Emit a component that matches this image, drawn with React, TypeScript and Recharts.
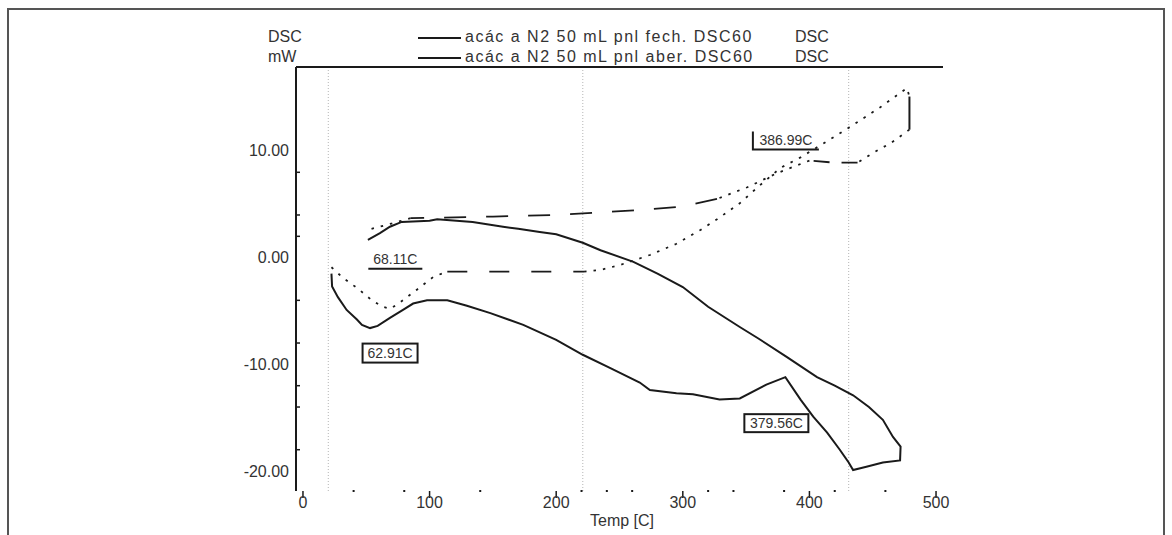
import React from 'react';
import { LineChart, Line, XAxis, YAxis, ReferenceLine, ReferenceDot } from 'recharts';

// closed pan (fech.) trace, in drawing order
const closedPanTemp = [
  22.5, 23, 27.6, 34.5, 42.6, 46.6, 53, 59, 68.7, 79, 87, 98, 114, 129.5, 148, 174, 200, 221, 242, 266,
  274, 295, 308, 329, 345, 366, 381, 393, 403, 414, 424, 431, 434.5, 445, 458, 471.6, 472, 466, 458, 447,
  434.5, 420, 406, 382, 360, 345, 320, 300, 280, 261, 235, 221, 200, 187, 170, 158, 134, 106, 100, 78,
  68.7, 60.8, 51.3,
];
const closedPanDsc = [
  -1.5, -2.7, -3.7, -4.9, -5.8, -6.3, -6.6, -6.4, -5.65, -4.9, -4.3, -4.0, -4.0, -4.5, -5.2, -6.3, -7.7, -9.1, -10.3, -11.7,
  -12.4, -12.7, -12.8, -13.3, -13.2, -11.9, -11.2, -13.3, -14.9, -16.4, -18.0, -19.2, -19.9, -19.6, -19.2, -19.0, -17.7, -16.8, -15.2, -14.0,
  -12.9, -12.0, -11.2, -9.3, -7.6, -6.5, -4.6, -2.75, -1.5, -0.4, 0.7, 1.4, 2.2, 2.4, 2.7, 2.9, 3.35, 3.6, 3.45, 3.35,
  2.9, 2.3, 1.66,
];

// open pan (aber.) trace, in drawing order
const openPanTemp = [
  22.5, 31.6, 43.4, 54.5, 63, 69, 76.6, 90, 103, 114,
  160, 222,
  235, 250, 274, 295, 314, 327, 345, 361, 377, 393, 411, 432, 456, 477, 479,
  479,
  465, 450, 438,
  420, 400,
  374, 351, 327,
  300, 270, 230, 200, 150, 85,
  70, 51,
];
const openPanDsc = [
  -0.9, -1.9, -2.9, -4.0, -4.6, -4.8, -4.2, -3.0, -1.8, -1.3,
  -1.3, -1.3,
  -1.15, -0.7, 0.25, 1.3, 2.6, 3.6, 5.1, 6.8, 8.4, 9.4, 10.7, 12.25, 14.1, 15.9, 15.1,
  12.0,
  10.8, 9.8, 8.9,
  8.9, 9.1,
  7.9, 6.6, 5.5,
  4.8, 4.5, 4.2, 4.0, 3.85, 3.7,
  3.2, 2.6,
];

const xMajorTicks = [0, 100, 200, 300, 400, 500];
const xMinorTicks = [40, 80, 140, 220, 240, 260, 320, 340, 380, 420, 460];
const yMajorTicks = [-20, -10, 0, 10];
const yMinorTicks = [8, 4, 2, -4, -8, -12, -14, -18];
const markerTemps = [20, 221, 431];

const peakLabels = ['62.91C', '68.11C', '379.56C', '386.99C'];
const peakTemps = [53, 69, 381, 398];
const peakDsc = [-6.6, -4.8, -11.2, 9.3];

const legendNames = ['acác a N2 50 mL pnl fech. DSC60', 'acác a N2 50 mL pnl aber. DSC60'];

// dash style of each stretch of the open pan trace (index ranges into the arrays above)
const DOTS = '2.5 7';
const openPanPieces = [
  { from: 0, to: 9, dash: DOTS },
  { from: 9, to: 11, dash: '20 22' },
  { from: 11, to: 26, dash: DOTS },
  { from: 26, to: 27, dash: undefined },
  { from: 27, to: 30, dash: DOTS },
  { from: 30, to: 32, dash: '16 12' },
  { from: 32, to: 35, dash: DOTS },
  { from: 35, to: 41, dash: '22 20' },
  { from: 41, to: 43, dash: DOTS },
];

// where each peak label sits relative to its point, in px
const labelLayout = [
  { kind: 'box', dx: 20, dy: 25, w: 55, h: 19 },
  { kind: 'underline', dx: 5, dy: -50, w: 54, h: 18 },
  { kind: 'box', dx: -9, dy: 46, w: 64, h: 18 },
  { kind: 'bracket', dx: -21, dy: -18, w: 66, h: 18 },
];

const closedPan = closedPanTemp.map((t, i) => ({ t, v: closedPanDsc[i] }));
const openPan = openPanTemp.map((t, i) => ({ t, v: openPanDsc[i] }));

const W = 1172;
const H = 535;
const FONT = '"Liberation Sans", Arial, sans-serif';
const INK = '#1a1a1a';
const TEXT = '#333';

const XTick = ({ x, y, payload }: any) => {
  const v = payload.value;
  if (xMajorTicks.includes(v)) {
    return (
      <g>
        <line x1={x} x2={x} y1={y} y2={y + 7} stroke={INK} strokeWidth={1.5} />
        <text x={x} y={y + 17} textAnchor="middle" fontSize={16} fill={TEXT} fontFamily={FONT}>
          {v}
        </text>
      </g>
    );
  }
  return <rect x={x - 1} y={y - 1} width={2} height={2} fill={INK} />;
};

const YTick = ({ x, y, payload }: any) => {
  const v = payload.value;
  if (yMajorTicks.includes(v)) {
    return (
      <text x={x - 7} y={y + 5.5} textAnchor="end" fontSize={16} fill={TEXT} fontFamily={FONT}>
        {v.toFixed(2)}
      </text>
    );
  }
  return <line x1={x + 1} x2={x + 4} y1={y} y2={y} stroke={INK} strokeWidth={1.5} />;
};

const PeakLabel = (i: number) => (props: any) => {
  const { cx, cy } = props;
  const l = labelLayout[i];
  const mx = cx + l.dx;
  const my = cy + l.dy;
  const text = (
    <text x={mx} y={my + 5} textAnchor="middle" fontSize={14} fill={TEXT} fontFamily={FONT}>
      {peakLabels[i]}
    </text>
  );
  if (l.kind === 'box') {
    return (
      <g>
        <rect x={mx - l.w / 2} y={my - l.h / 2} width={l.w} height={l.h} fill="#fff" stroke={INK} strokeWidth={2} />
        {text}
      </g>
    );
  }
  if (l.kind === 'underline') {
    return (
      <g>
        {text}
        <line x1={mx - l.w / 2} x2={mx + l.w / 2} y1={my + 10} y2={my + 10} stroke={INK} strokeWidth={2} />
      </g>
    );
  }
  return (
    <g>
      {text}
      <polyline
        points={`${mx - l.w / 2},${my - 9} ${mx - l.w / 2},${my + 9} ${mx + l.w / 2},${my + 9}`}
        fill="none"
        stroke={INK}
        strokeWidth={2}
      />
    </g>
  );
};

const abs = (left: number, top: number, extra: React.CSSProperties = {}): React.CSSProperties => ({
  position: 'absolute',
  left,
  top,
  whiteSpace: 'nowrap',
  ...extra,
});

export default function App() {
  const textStyle: React.CSSProperties = { fontSize: 16, lineHeight: '18px', color: TEXT, fontFamily: FONT };
  return (
    <div style={{ position: 'absolute', left: 0, top: 0, width: W, height: H, background: '#fff', overflow: 'hidden' }}>
      <div
        style={abs(7, 8, {
          width: 1154,
          height: 560,
          borderLeft: '2px solid #555',
          borderTop: '2px solid #555',
          borderRight: '2px solid #555',
        })}
      />

      <div style={abs(268, 28, textStyle)}>DSC</div>
      <div style={abs(268, 48, textStyle)}>mW</div>
      {legendNames.map((name, i) => (
        <React.Fragment key={name}>
          <div style={abs(418, 37 + i * 20, { width: 43, height: 2, background: INK })} />
          <div style={abs(465, 28 + i * 20, { ...textStyle, letterSpacing: 1.5 })}>{name}</div>
          <div style={abs(795, 28 + i * 20, textStyle)}>DSC</div>
        </React.Fragment>
      ))}

      <div style={abs(0, 0)}>
        <LineChart width={W} height={H} margin={{ top: 67, right: 229, bottom: 14, left: 236 }}>
          <XAxis
            dataKey="t"
            type="number"
            domain={[-5.5, 505.5]}
            allowDataOverflow
            ticks={[...xMajorTicks, ...xMinorTicks]}
            interval={0}
            tick={<XTick />}
            tickLine={false}
            tickSize={0}
            tickMargin={0}
            axisLine={false}
            height={30}
          />
          <YAxis
            type="number"
            domain={[-21.87, 17.87]}
            allowDataOverflow
            ticks={[...yMajorTicks, ...yMinorTicks]}
            interval={0}
            tick={<YTick />}
            tickLine={false}
            tickSize={0}
            tickMargin={0}
            axisLine={{ stroke: INK, strokeWidth: 2 }}
            width={60}
          />
          {markerTemps.map((t) => (
            <ReferenceLine key={t} x={t} stroke="#b5b5b5" strokeDasharray="1 2" />
          ))}
          <ReferenceLine y={17.87} stroke={INK} strokeWidth={2} />

          <Line
            data={closedPan}
            dataKey="v"
            type="linear"
            stroke={INK}
            strokeWidth={2}
            dot={false}
            isAnimationActive={false}
          />
          {openPanPieces.map((p, i) => (
            <Line
              key={i}
              data={openPan.slice(p.from, p.to + 1)}
              dataKey="v"
              type="linear"
              stroke={INK}
              strokeWidth={p.dash ? 1.8 : 2}
              strokeDasharray={p.dash}
              dot={false}
              isAnimationActive={false}
            />
          ))}

          {peakLabels.map((lab, i) => (
            <ReferenceDot key={lab} x={peakTemps[i]} y={peakDsc[i]} r={0} shape={PeakLabel(i)} />
          ))}
        </LineChart>
      </div>

      <div style={abs(590, 512, textStyle)}>Temp [C]</div>
    </div>
  );
}
